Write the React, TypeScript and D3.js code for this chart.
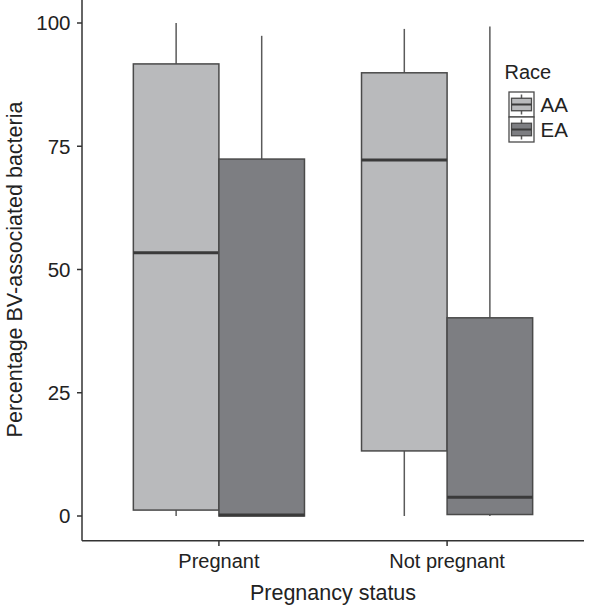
import React from "react";
import * as d3 from "d3";

const categories = ["Pregnant", "Not pregnant"];
const races = ["AA", "EA"];
// [lowerWhisker, q1, median, q3, upperWhisker] per category, per race
const statsAA = [
  [0, 1.2, 53.4, 91.7, 100],
  [0, 13.2, 72.2, 89.9, 98.8],
];
const statsEA = [
  [0, 0, 0.2, 72.4, 97.4],
  [0, 0.3, 3.8, 40.2, 99.3],
];
const yTicks = [0, 25, 50, 75, 100];
const fills = ["#b9babc", "#7d7e82"];

const W = 591;
const H = 606;

export default function App() {
  const x = d3.scaleLinear().domain([0.4, 2.6]).range([82, 584]);
  const y = d3.scaleLinear().domain([-5, 105]).range([540.65, -1.65]);
  const boxW = 0.375;
  const font = "'Liberation Sans', Arial, Helvetica, sans-serif";
  const series = [statsAA, statsEA];

  const boxes: React.ReactNode[] = [];
  categories.forEach((c, ci) => {
    races.forEach((r, ri) => {
      const s = series[ri][ci];
      const center = ci + 1 + (ri === 0 ? -boxW / 2 : boxW / 2);
      const cx = x(center);
      const x0 = x(center - boxW / 2);
      const x1 = x(center + boxW / 2);
      boxes.push(
        <g key={c + r}>
          <line x1={cx} x2={cx} y1={y(s[4])} y2={y(s[3])} stroke="#5a5a5a" strokeWidth={1.5} />
          <line x1={cx} x2={cx} y1={y(s[1])} y2={y(s[0])} stroke="#5a5a5a" strokeWidth={1.5} />
          <rect x={x0} y={y(s[3])} width={x1 - x0} height={y(s[1]) - y(s[3])} fill={fills[ri]} stroke="#4a4a4a" strokeWidth={1.5} />
          <line x1={x0} x2={x1} y1={y(s[2])} y2={y(s[2])} stroke="#3a3a3a" strokeWidth={3} />
        </g>
      );
    });
  });

  const keyX = 509;
  const keyY = 92;
  const keyS = 25;

  return (
    <svg width={W} height={H} style={{ position: "absolute", left: 0, top: 0 }} fontFamily={font}>
      <rect x={0} y={0} width={W} height={H} fill="#ffffff" />
      {boxes}
      {/* axes */}
      <line x1={82} x2={82} y1={-2} y2={540.65} stroke="#333" strokeWidth={1.5} />
      <line x1={82} x2={584} y1={540.65} y2={540.65} stroke="#333" strokeWidth={1.5} />
      {yTicks.map((t) => (
        <g key={t}>
          <line x1={77} x2={82} y1={y(t)} y2={y(t)} stroke="#333" strokeWidth={1.5} />
          <text x={70.5} y={y(t)} dy="0.36em" textAnchor="end" fontSize={20.5} fill="#222">
            {t}
          </text>
        </g>
      ))}
      {categories.map((c, ci) => (
        <g key={c}>
          <line x1={x(ci + 1)} x2={x(ci + 1)} y1={540.65} y2={546} stroke="#333" strokeWidth={1.5} />
          <text x={x(ci + 1)} y={567.5} textAnchor="middle" fontSize={20} fill="#222">
            {c}
          </text>
        </g>
      ))}
      <text x={(82 + 584) / 2} y={600} textAnchor="middle" fontSize={21.5} fill="#222">
        Pregnancy status
      </text>
      <text transform={`translate(22,${(y(105) + y(-5)) / 2}) rotate(-90)`} textAnchor="middle" fontSize={21.5} fill="#222">
        Percentage BV-associated bacteria
      </text>
      {/* legend */}
      <text x={504.5} y={78.5} fontSize={20} fill="#222">
        Race
      </text>
      {races.map((r, ri) => {
        const ky = keyY + ri * keyS;
        const cx = keyX + keyS / 2;
        return (
          <g key={r}>
            <rect x={keyX} y={ky} width={keyS} height={keyS} fill="#fff" stroke="#4a4a4a" strokeWidth={1.3} />
            <line x1={cx} x2={cx} y1={ky + keyS * 0.1} y2={ky + keyS * 0.9} stroke="#5a5a5a" strokeWidth={1.5} />
            <rect x={keyX + keyS * 0.1} y={ky + keyS * 0.25} width={keyS * 0.8} height={keyS * 0.5} fill={fills[ri]} stroke="#4a4a4a" strokeWidth={1.3} />
            <line x1={keyX + keyS * 0.1} x2={keyX + keyS * 0.9} y1={ky + keyS / 2} y2={ky + keyS / 2} stroke="#3a3a3a" strokeWidth={2} />
            <text x={540.5} y={ky + keyS / 2} dy="0.36em" fontSize={20.5} fill="#222">
              {r}
            </text>
          </g>
        );
      })}
    </svg>
  );
}
